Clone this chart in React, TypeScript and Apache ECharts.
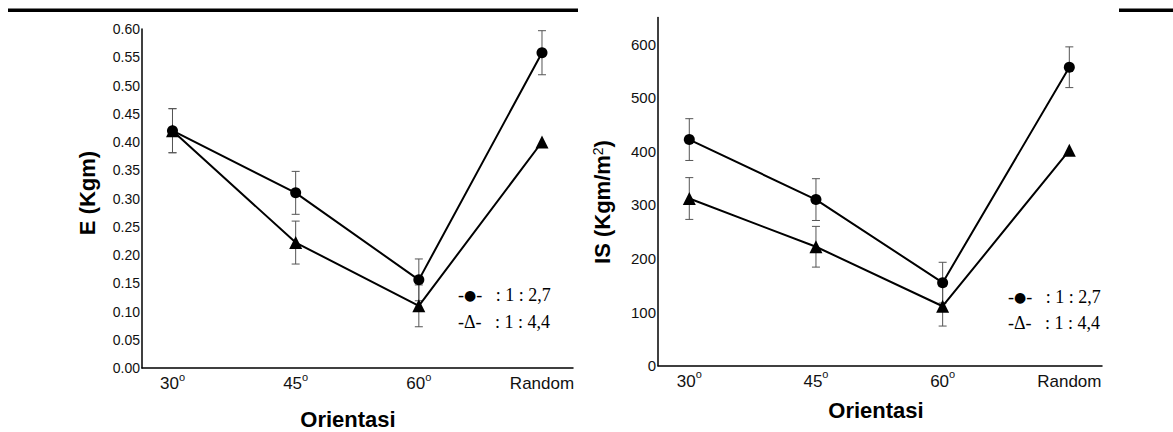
import React, { useEffect, useRef } from "react";
import * as echarts from "echarts";

// ---- data ----
const categories = ["30", "45", "60", "Random"];
const degreeLabels = [true, true, true, false];

const eCircle = [0.42, 0.31, 0.156, 0.558];
const eCircleErr = [0.039, 0.038, 0.037, 0.039];
const eTriangle = [0.42, 0.222, 0.11, 0.4];
const eTriangleErr = [0.039, 0.038, 0.037, 0];

const isCircle = [422, 310, 155, 557];
const isCircleErr = [39, 39, 38, 38];
const isTriangle = [312, 222, 111, 402];
const isTriangleErr = [39, 38, 37, 0];

const eTicks = { min: 0, max: 0.6, interval: 0.05 };
const isTicks = { min: 0, max: 650, interval: 100 };

const legendCircle = "1 : 2,7";
const legendTriangle = "1 : 4,4";

const toPoints = (vals: number[]) => vals.map((v, i) => [i, v]);
const toErr = (vals: number[], errs: number[]) =>
  vals
    .map((v, i) => [i, v - errs[i], v + errs[i]])
    .filter((d, i) => errs[i] > 0);

const errRender = (params: any, api: any) => {
  const x = api.value(0);
  const lo = api.coord([x, api.value(1)]);
  const hi = api.coord([x, api.value(2)]);
  const w = 4;
  const style = { stroke: "#555", lineWidth: 1 };
  return {
    type: "group",
    children: [
      { type: "line", shape: { x1: hi[0], y1: hi[1], x2: lo[0], y2: lo[1] }, style },
      { type: "line", shape: { x1: hi[0] - w, y1: hi[1], x2: hi[0] + w, y2: hi[1] }, style },
      { type: "line", shape: { x1: lo[0] - w, y1: lo[1], x2: lo[0] + w, y2: lo[1] }, style },
    ],
  };
};

const xLabelFormatter = (v: number) => {
  const i = Math.round(v);
  if (i < 0 || i >= categories.length) return "";
  return degreeLabels[i] ? `{n|${categories[i]}}{sup|o}` : `{n|${categories[i]}}`;
};

const sans = "Liberation Sans, Arial, sans-serif";

const xAxisCommon = (gridIndex: number, min: number, max: number) => ({
  type: "value",
  gridIndex,
  min,
  max,
  splitLine: { show: false },
  axisTick: { show: false },
  axisLine: { show: true, onZero: false, lineStyle: { color: "#000", width: 1.5 } },
  axisLabel: {
    customValues: [0, 1, 2, 3],
    formatter: xLabelFormatter,
    margin: 6,
    fontFamily: sans,
    fontSize: 17,
    color: "#111",
    rich: {
      n: { fontFamily: sans, fontSize: 17, lineHeight: 18, verticalAlign: "bottom", color: "#111" },
      sup: {
        fontFamily: sans,
        fontSize: 11,
        lineHeight: 11,
        padding: [0, 0, 10, 0],
        verticalAlign: "bottom",
        color: "#111",
      },
    },
  },
});

const yAxisCommon = (gridIndex: number, t: any, fontSize: number, formatter: any) => ({
  type: "value",
  gridIndex,
  min: t.min,
  max: t.max,
  interval: t.interval,
  splitLine: { show: false },
  axisTick: { show: false },
  axisLine: { show: true, onZero: false, lineStyle: { color: "#000", width: 1.5 } },
  axisLabel: {
    margin: 2,
    fontFamily: sans,
    fontSize,
    color: "#111",
    formatter,
  },
});

const lineSeries = (
  name: string,
  vals: number[],
  idx: number,
  symbol: string,
  size: number
) => ({
  name,
  type: "line",
  xAxisIndex: idx,
  yAxisIndex: idx,
  data: toPoints(vals),
  symbol,
  symbolSize: size,
  showSymbol: true,
  itemStyle: { color: "#000" },
  lineStyle: { color: "#000", width: 2 },
  z: 3,
});

const errSeries = (vals: number[], errs: number[], idx: number) => ({
  type: "custom",
  xAxisIndex: idx,
  yAxisIndex: idx,
  data: toErr(vals, errs),
  encode: { x: 0, y: [1, 2] },
  renderItem: errRender,
  z: 2,
  silent: true,
});

const serif = "Liberation Serif, Times New Roman, serif";

export default function App() {
  const ref = useRef<HTMLDivElement>(null);
  useEffect(() => {
    if (!ref.current) return;
    const chart = echarts.init(ref.current, undefined, { renderer: "svg" });
    const legendRich = {
      dot: { fontFamily: "DejaVu Sans, sans-serif", fontSize: 14, color: "#000" },
      t: { fontFamily: serif, fontSize: 18, color: "#000" },
    };
    const legendText = (x: number, y: number, sym: "dot" | "tri", label: string) => ({
      type: "text",
      x,
      y,
      style: {
        text:
          sym === "dot"
            ? `{t|-}{dot|●}{t|-}{t|\u00a0\u00a0\u00a0: ${label}}`
            : `{t|-Δ-}{t|\u00a0\u00a0\u00a0: ${label}}`,
        rich: legendRich,
        verticalAlign: "middle",
      },
    });
    chart.setOption({
      animation: false,
      backgroundColor: "#fff",
      grid: [
        { left: 142, top: 29, width: 431, height: 339 },
        { left: 658, top: 17.4, width: 444, height: 348.3 },
      ],
      xAxis: [xAxisCommon(0, -0.2476, 3.2517), xAxisCommon(1, -0.247, 3.258)],
      yAxis: [
        yAxisCommon(0, eTicks, 14, (v: number) => v.toFixed(2)),
        yAxisCommon(1, isTicks, 15, (v: number) => (v > 600 ? "" : String(v))),
      ],
      series: [
        errSeries(eCircle, eCircleErr, 0),
        errSeries(eTriangle, eTriangleErr, 0),
        lineSeries(legendTriangle, eTriangle, 0, "triangle", 13),
        lineSeries(legendCircle, eCircle, 0, "circle", 11),
        errSeries(isCircle, isCircleErr, 1),
        errSeries(isTriangle, isTriangleErr, 1),
        lineSeries(legendTriangle, isTriangle, 1, "triangle", 13),
        lineSeries(legendCircle, isCircle, 1, "circle", 11),
      ],
      graphic: [
        { type: "rect", shape: { x: 8, y: 8.5, width: 570, height: 3.5 }, style: { fill: "#000" } },
        { type: "rect", shape: { x: 1119, y: 8.5, width: 54, height: 3.5 }, style: { fill: "#000" } },
        {
          type: "text",
          x: 87,
          y: 193,
          rotation: Math.PI / 2,
          style: {
            text: "E (Kgm)",
            font: `bold 22px ${sans}`,
            fill: "#000",
            align: "center",
            verticalAlign: "middle",
          },
        },
        {
          type: "text",
          x: 602,
          y: 202,
          rotation: Math.PI / 2,
          style: {
            text: "IS (Kgm/m{sup|2})",
            font: `bold 22px ${sans}`,
            fill: "#000",
            align: "center",
            verticalAlign: "middle",
            rich: {
              sup: { fontFamily: sans, fontSize: 14, fontWeight: "normal", verticalAlign: "top", fill: "#000" },
            },
          },
        },
        {
          type: "text",
          x: 348,
          y: 419,
          style: {
            text: "Orientasi",
            font: `bold 22px ${sans}`,
            fill: "#000",
            align: "center",
            verticalAlign: "middle",
          },
        },
        {
          type: "text",
          x: 876,
          y: 410,
          style: {
            text: "Orientasi",
            font: `bold 22px ${sans}`,
            fill: "#000",
            align: "center",
            verticalAlign: "middle",
          },
        },
        legendText(458, 295, "dot", legendCircle),
        legendText(458, 322, "tri", legendTriangle),
        legendText(1008, 297, "dot", legendCircle),
        legendText(1008, 323, "tri", legendTriangle),
      ],
    });
    return () => chart.dispose();
  }, []);
  return (
    <div
      ref={ref}
      style={{ position: "fixed", left: 0, top: 0, width: 1173, height: 432 }}
    />
  );
}
